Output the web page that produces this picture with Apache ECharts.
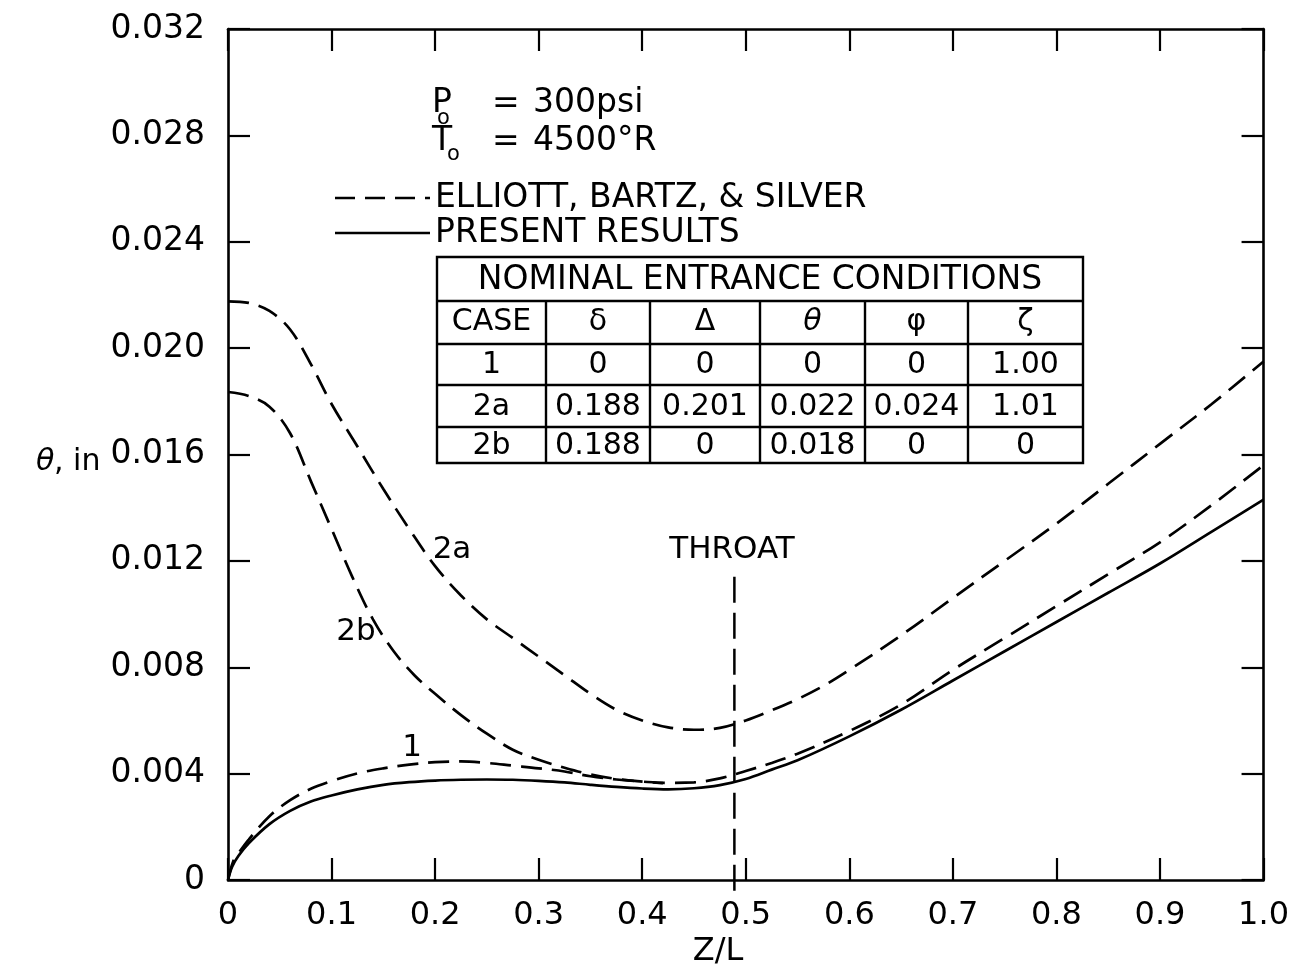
<!DOCTYPE html>
<html>
<head>
<meta charset="utf-8">
<title>Momentum thickness along nozzle</title>
<script src="https://cdn.jsdelivr.net/npm/echarts@6/dist/echarts.min.js"></script>
</head>
<body style="margin:0;background:#fff">
<div id="main" style="width:1292px;height:972px;"></div>
<script type="text/javascript">
// case 1, Elliott, Bartz & Silver (dashed)
var xCase1Ebs = [0, 0.005, 0.01, 0.02, 0.04, 0.06, 0.08, 0.10, 0.125, 0.15, 0.175, 0.2, 0.225, 0.25, 0.275, 0.30, 0.325, 0.35, 0.375, 0.4, 0.425, 0.45, 0.475, 0.5, 0.525, 0.55, 0.6, 0.65, 0.7, 0.75, 0.8, 0.85, 0.9, 0.95, 1.0];
var yCase1Ebs = [0, 0.0007, 0.001, 0.00152, 0.0024, 0.003, 0.00343, 0.00372, 0.00401, 0.0042, 0.00434, 0.00443, 0.00446, 0.0044, 0.0043, 0.0042, 0.00408, 0.0039, 0.00378, 0.0037, 0.00365, 0.00367, 0.00382, 0.0041, 0.0044, 0.00475, 0.0056, 0.0066, 0.0079, 0.0091, 0.0103, 0.0115, 0.0127, 0.0141, 0.0156];
// case 1, present results (solid)
var xCase1Present = [0, 0.004, 0.01, 0.02, 0.04, 0.06, 0.08, 0.10, 0.125, 0.15, 0.175, 0.2, 0.225, 0.25, 0.275, 0.3, 0.325, 0.35, 0.375, 0.4, 0.425, 0.45, 0.475, 0.5, 0.525, 0.55, 0.6, 0.65, 0.7, 0.75, 0.8, 0.85, 0.9, 0.95, 1.0];
var yCase1Present = [0, 0.0005, 0.0009, 0.00138, 0.0021, 0.0026, 0.00295, 0.00318, 0.00341, 0.00358, 0.00368, 0.00374, 0.00377, 0.00378, 0.00377, 0.00373, 0.00367, 0.00358, 0.0035, 0.00344, 0.00341, 0.00345, 0.00357, 0.0038, 0.00415, 0.0045, 0.0054, 0.0064, 0.0075, 0.0086, 0.0097, 0.0108, 0.0119, 0.0131, 0.0143];
// case 2a (dashed)
var xCase2a = [0, 0.02, 0.04, 0.06, 0.08, 0.10, 0.125, 0.15, 0.175, 0.2, 0.225, 0.25, 0.275, 0.3, 0.325, 0.35, 0.375, 0.4, 0.425, 0.45, 0.475, 0.5, 0.525, 0.55, 0.575, 0.6, 0.65, 0.7, 0.75, 0.8, 0.85, 0.9, 0.95, 1.0];
var yCase2a = [0.02176, 0.0217, 0.0214, 0.0207, 0.0194, 0.0179, 0.0163, 0.0147, 0.0132, 0.0118, 0.0107, 0.0098, 0.0091, 0.0084, 0.0077, 0.007, 0.0064, 0.006, 0.00574, 0.00565, 0.00572, 0.006, 0.00638, 0.0068, 0.0073, 0.0079, 0.0092, 0.0106, 0.012, 0.0134, 0.0149, 0.0164, 0.0179, 0.0195];
// case 2b (dashed), joins the case 1 dashed curve before the throat
var xCase2b = [0, 0.02, 0.04, 0.06, 0.08, 0.10, 0.12, 0.14, 0.16, 0.18, 0.20, 0.225, 0.25, 0.275, 0.30, 0.325, 0.35, 0.375, 0.40, 0.42];
var yCase2b = [0.01835, 0.0182, 0.0178, 0.0168, 0.015, 0.0132, 0.0114, 0.0098, 0.0086, 0.0077, 0.007, 0.0062, 0.0055, 0.0049, 0.00452, 0.00422, 0.00397, 0.0038, 0.0037, 0.00364];
// throat location
var xThroat = [0.489, 0.489];
var yThroat = [-0.0004, 0.0114];

var tableTitle = 'NOMINAL ENTRANCE CONDITIONS';
var tableHead = ['CASE', 'δ', 'Δ', 'θ', 'φ', 'ζ'];
var tableRows = [
  ['1', '0', '0', '0', '0', '1.00'],
  ['2a', '0.188', '0.201', '0.022', '0.024', '1.01'],
  ['2b', '0.188', '0', '0.018', '0', '0']
];

function zip(xs, ys) { return xs.map(function (x, i) { return [x, ys[i]]; }); }

var FONT = 'DejaVu Sans';
var INK = '#000';

// table layout (pixels)
var colEdges = [437, 546, 650, 760, 865, 968, 1083];
var rowEdges = [257, 301, 344, 385, 427, 463];

var graphics = [];
function txt(s, x, y, size, align, italic) {
  graphics.push({
    type: 'text', silent: true, z: 10,
    style: {
      text: s, x: x, y: y, fill: INK,
      font: (italic ? 'italic ' : '') + size + 'px "' + FONT + '"',
      textAlign: align || 'center', textVerticalAlign: 'middle'
    }
  });
}
function seg(x1, y1, x2, y2, w, dash) {
  graphics.push({
    type: 'line', silent: true, z: 10,
    shape: { x1: x1, y1: y1, x2: x2, y2: y2 },
    style: { stroke: INK, lineWidth: w, lineDash: dash || null }
  });
}

// table
graphics.push({
  type: 'rect', silent: true, z: 9,
  shape: { x: colEdges[0], y: rowEdges[0], width: colEdges[6] - colEdges[0], height: rowEdges[5] - rowEdges[0] },
  style: { fill: '#fff', stroke: INK, lineWidth: 2.4 }
});
for (var r = 1; r < rowEdges.length - 1; r++) seg(colEdges[0], rowEdges[r], colEdges[6], rowEdges[r], 2.4);
for (var c = 1; c < colEdges.length - 1; c++) seg(colEdges[c], rowEdges[1], colEdges[c], rowEdges[5], 2.4);
txt(tableTitle, (colEdges[0] + colEdges[6]) / 2, (rowEdges[0] + rowEdges[1]) / 2 + 1, 33);
tableHead.forEach(function (h, i) {
  txt(h, (colEdges[i] + colEdges[i + 1]) / 2, (rowEdges[1] + rowEdges[2]) / 2, 30, 'center', h === 'θ');
});
tableRows.forEach(function (row, r) {
  row.forEach(function (v, i) {
    txt(v, (colEdges[i] + colEdges[i + 1]) / 2, (rowEdges[r + 2] + rowEdges[r + 3]) / 2 + 1, 30);
  });
});

// conditions
txt('P', 432, 103, 33, 'left');
txt('o', 437, 119, 21, 'left');
txt('=', 492, 104, 33, 'left');
txt('300psi', 533, 103, 33, 'left');
txt('T', 432, 141, 33, 'left');
txt('o', 447, 155, 21, 'left');
txt('=', 492, 142, 33, 'left');
txt('4500°R', 533, 141, 33, 'left');

// legend
seg(335, 198, 430, 198, 2.6, [20, 10]);
txt('ELLIOTT, BARTZ, & SILVER', 435, 198, 33, 'left');
seg(335, 233, 430, 233, 2.6);
txt('PRESENT RESULTS', 435, 233, 33, 'left');

// curve labels
txt('2a', 452, 550, 31);
txt('2b', 356, 632, 31);
txt('1', 412, 748, 31);
txt('THROAT', 732, 550, 31);

// axis names
txt('θ', 36, 462, 30, 'left', true);
txt(', in', 54, 462, 30, 'left');
txt('Z/L', 718, 952, 32);

var myChart = echarts.init(document.getElementById('main'));

var axisLineStyle = { show: true, onZero: false, lineStyle: { color: INK, width: 2.6 } };
var tickStyle = { show: true, inside: true, length: 22, lineStyle: { color: INK, width: 2.2 } };

function lineSeries(name, data, dashed) {
  return {
    name: name, type: 'line', data: data, showSymbol: false, symbol: 'none',
    smooth: 0.35,
    lineStyle: { color: INK, width: 2.7, type: dashed ? [21, 10] : 'solid' },
    silent: true, z: 3
  };
}

myChart.setOption({
  backgroundColor: '#fff',
  animation: false,
  grid: { left: 228, right: 22, top: 29, bottom: 92 },
  xAxis: [{
    type: 'value', min: 0, max: 1, interval: 0.1, position: 'bottom',
    axisLine: axisLineStyle, axisTick: tickStyle, splitLine: { show: false },
    axisLabel: {
      color: INK, fontFamily: FONT, fontSize: 32, margin: 20,
      formatter: function (v) { return v === 0 ? '0' : v.toFixed(1); }
    }
  }, {
    type: 'value', min: 0, max: 1, interval: 0.1, position: 'top',
    axisLine: axisLineStyle, axisTick: tickStyle, splitLine: { show: false },
    axisLabel: { show: false }
  }],
  yAxis: [{
    type: 'value', min: 0, max: 0.032, interval: 0.004, position: 'left',
    axisLine: axisLineStyle, axisTick: tickStyle, splitLine: { show: false },
    axisLabel: {
      color: INK, fontFamily: FONT, fontSize: 33, margin: 23,
      formatter: function (v) { return v === 0 ? '0' : v.toFixed(3); }
    }
  }, {
    type: 'value', min: 0, max: 0.032, interval: 0.004, position: 'right',
    axisLine: axisLineStyle, axisTick: tickStyle, splitLine: { show: false },
    axisLabel: { show: false }
  }],
  series: [
    lineSeries('Case 1 EBS', zip(xCase1Ebs, yCase1Ebs), true),
    lineSeries('Case 1 present', zip(xCase1Present, yCase1Present), false),
    lineSeries('Case 2a', zip(xCase2a, yCase2a), true),
    lineSeries('Case 2b', zip(xCase2b, yCase2b), true),
    {
      name: 'Throat', type: 'line', data: zip(xThroat, yThroat), showSymbol: false, symbol: 'none',
      lineStyle: { color: INK, width: 2.5, type: [26, 10] }, silent: true, z: 3, clip: false
    }
  ],
  graphic: graphics
});
</script>
</body>
</html>
